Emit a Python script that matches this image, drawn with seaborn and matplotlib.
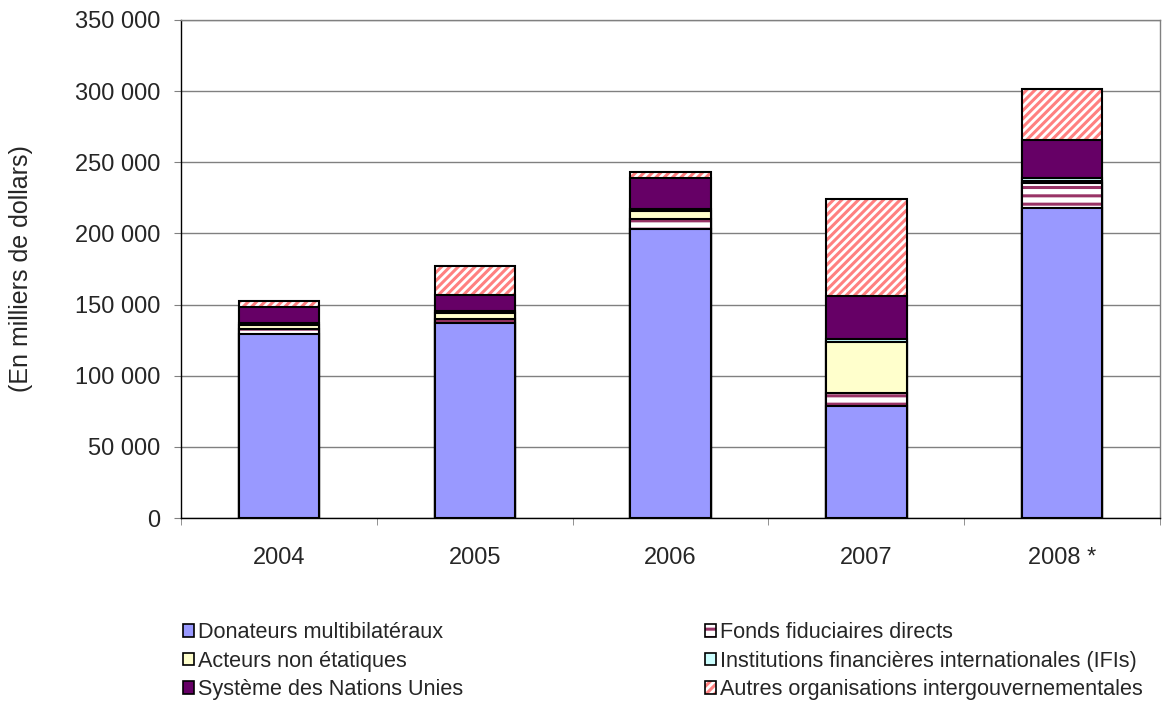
# encoding=utf-8

import numpy as np
import pandas as pd
import seaborn as sns
import matplotlib.pyplot as plt
from matplotlib.patches import Patch
from matplotlib.ticker import FuncFormatter

# data (en milliers de dollars)
years = ['2004', '2005', '2006', '2007', '2008 *']
donateurs = [129000, 137000, 203000, 78500, 218000]
fonds = [4000, 3000, 7000, 9500, 17500]
acteurs = [3000, 4000, 6000, 36000, 1500]
ifis = [1000, 1500, 1000, 2000, 2000]
nations_unies = [11000, 11500, 22000, 30000, 26500]
autres = [4500, 20000, 4000, 68000, 36000]

labels = ['Donateurs multibilatéraux', 'Fonds fiduciaires directs',
          'Acteurs non étatiques', 'Institutions financières internationales (IFIs)',
          'Système des Nations Unies', 'Autres organisations intergouvernementales']
series = [donateurs, fonds, acteurs, ifis, nations_unies, autres]
# face colour, hatch, hatch colour
styles = [('#9999FF', None, None),
          ('white', '--', '#993366'),
          ('#FFFFCC', None, None),
          ('#CCFFFF', None, None),
          ('#660066', None, None),
          ('white', '////', '#FF8080')]

df = pd.DataFrame({'year': years})
cum = np.zeros(len(years))
for lab, vals in zip(labels, series):
    cum = cum + np.array(vals)
    df[lab] = cum

sns.set_style("white")
plt.rcParams['font.family'] = ['Liberation Sans', 'DejaVu Sans']
plt.rcParams['hatch.linewidth'] = 2.2

fig = plt.figure(figsize=(11.73, 7.11), dpi=100)
ax = fig.add_axes([0.1543, 0.2714, 0.8347, 0.7005])

W = 0.41
LW = 1.5
# draw cumulative bars from the top layer down
for lab, (face, hatch, hcol) in reversed(list(zip(labels, styles))):
    if hatch:
        sns.barplot(data=df, x='year', y=lab, order=years, color=face, saturation=1,
                    width=W, hatch=hatch, edgecolor=hcol, linewidth=0,
                    errorbar=None, ax=ax, zorder=3)
        sns.barplot(data=df, x='year', y=lab, order=years, color='black', fill=False,
                    saturation=1, width=W, edgecolor='black', linewidth=LW,
                    errorbar=None, ax=ax, zorder=3)
    else:
        sns.barplot(data=df, x='year', y=lab, order=years, color=face, saturation=1,
                    width=W, edgecolor='black', linewidth=LW,
                    errorbar=None, ax=ax, zorder=3)

ax.set_ylim(0, 350000)
ax.set_xlim(-0.5, 4.5)
ax.set_yticks(np.arange(0, 350001, 50000))
ax.yaxis.set_major_formatter(FuncFormatter(lambda v, p: '{:,}'.format(int(v)).replace(',', ' ')))
ax.grid(axis='y', color='#808080', linewidth=1, zorder=0)
ax.set_axisbelow(True)

ax.set_xlabel('')
ax.set_ylabel('(En milliers de dollars)', fontsize=18)
ax.yaxis.set_label_coords(-0.151, 0.5)

ax.set_xticks(np.arange(-0.5, 5), minor=True)
ax.tick_params(axis='x', which='major', length=0, pad=21, labelsize=17)
ax.tick_params(axis='x', which='minor', length=5, color='#808080', direction='out', bottom=True)
ax.tick_params(axis='y', length=5, color='#808080', direction='out', left=True, labelsize=17, pad=10)

for side in ['top', 'right']:
    ax.spines[side].set_color('#808080')
    ax.spines[side].set_linewidth(1)
for side in ['left', 'bottom']:
    ax.spines[side].set_color('black')
    ax.spines[side].set_linewidth(1)

# legend, column-first order
handles = []
for face, hatch, hcol in styles:
    if hatch:
        handles.append((Patch(facecolor=face, edgecolor=hcol, hatch=hatch, linewidth=0),
                        Patch(fill=False, edgecolor='black', linewidth=1.2)))
    else:
        handles.append(Patch(facecolor=face, edgecolor='black', linewidth=1.2))
order = [0, 2, 4, 1, 3, 5]
fig.legend([handles[i] for i in order], [labels[i] for i in order], ncol=2,
           loc='upper left', bbox_to_anchor=(0.1466, 0.140), bbox_transform=fig.transFigure,
           frameon=False, fontsize=15.6, handlelength=0.5, handleheight=0.5,
           handletextpad=0.2, columnspacing=11.15, labelspacing=0.34, borderpad=0)

fig.savefig('out.png', dpi=100)
